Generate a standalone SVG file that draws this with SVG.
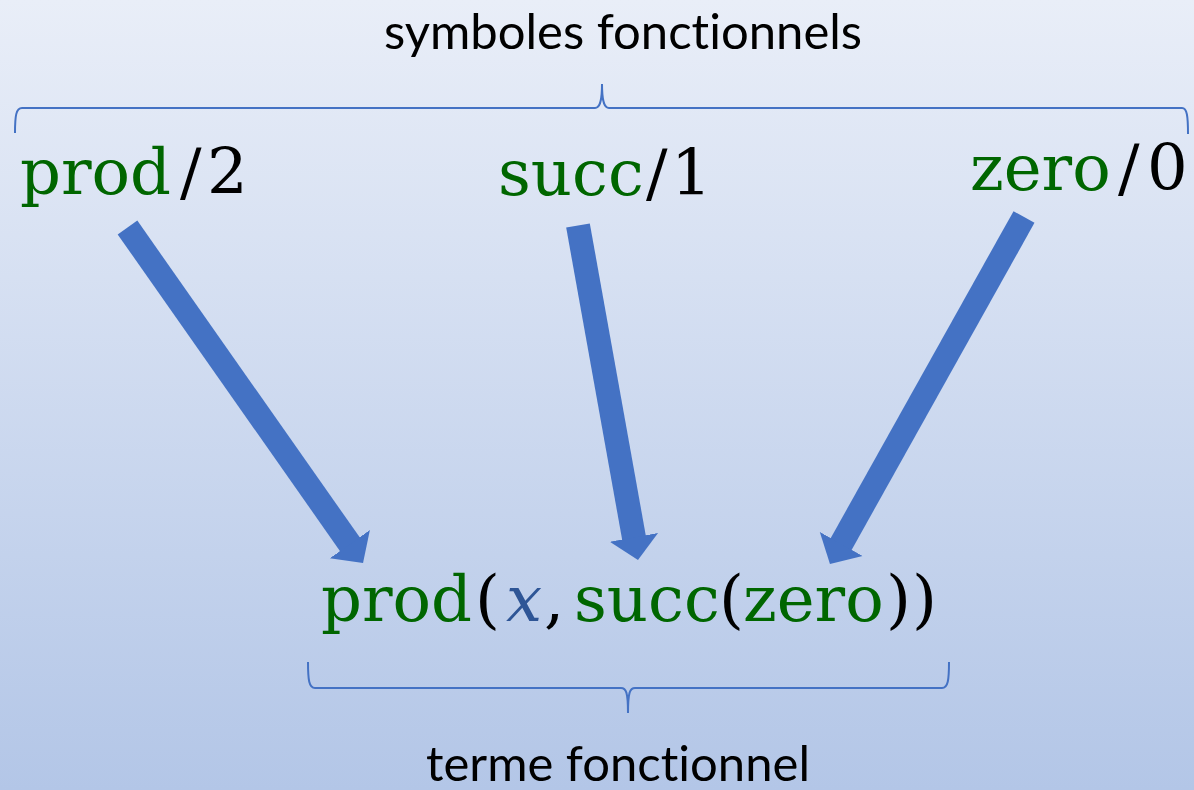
<svg xmlns="http://www.w3.org/2000/svg" width="1194" height="790" viewBox="0 0 1194 790">
  <defs>
    <linearGradient id="bg" x1="0" y1="0" x2="0" y2="1">
      <stop offset="0" stop-color="#E9EEF8"/>
      <stop offset="1" stop-color="#B3C6E7"/>
    </linearGradient>
    <marker id="head" markerUnits="userSpaceOnUse" markerWidth="24" markerHeight="50" viewBox="0 0 24 50" refX="1" refY="25" orient="auto">
      <path d="M0,0.5 L23,25 L0,49.5 Z" fill="#4472C4"/>
    </marker>
    <style>
      .brace { fill: none; stroke: #4472C4; stroke-width: 2; }
      .caption { font-family: Lato, "Liberation Sans", sans-serif; font-size: 49px; fill: #000000; font-variant-ligatures: none; font-feature-settings: "liga" 0, "dlig" 0; }
      .math { font-family: "DejaVu Serif", "Liberation Serif", serif; font-size: 64px; fill: #000000; }
      .fn { fill: #006600; }
      .var { fill: #2E5596; font-style: italic; }
      .arrow { stroke: #4472C4; stroke-width: 24; fill: none; stroke-linecap: butt; marker-end: url(#head); }
    </style>
  </defs>
  <rect x="0" y="0" width="1194" height="790" fill="url(#bg)"/>

  <g id="symboles-fonctionnels">
    <path class="brace" d="M15,133 C15,116 16,108 22,108 L595,108 C599,108 602,104 602,84 C602,104 605,108 609,108 L1182,108 C1187,108 1188,116 1188,134"/>
    <text class="caption" x="623" y="48.5" text-anchor="middle">symboles fonctionnels</text>
  </g>

  <g id="prod2">
    <text class="math" y="194"><tspan class="fn" x="20">prod</tspan><tspan x="180">/</tspan><tspan x="207">2</tspan></text>
  </g>

  <g id="succ1">
    <text class="math" y="195"><tspan class="fn" x="498">succ</tspan><tspan x="646">/</tspan><tspan x="671">1</tspan></text>
  </g>

  <g id="zero0">
    <text class="math" y="190"><tspan class="fn" x="970">zero</tspan><tspan x="1118">/</tspan><tspan x="1147">0</tspan></text>
  </g>

  <g id="terme">
    <text class="math" y="621"><tspan class="fn" x="321">prod</tspan><tspan x="475">(</tspan><tspan class="var" x="506">x</tspan><tspan x="544">,</tspan><tspan class="fn" x="574">succ</tspan><tspan x="719">(</tspan><tspan class="fn" x="743">zero</tspan><tspan x="886">)</tspan><tspan x="912">)</tspan></text>
  </g>

  <g id="terme-fonctionnel">
    <path class="brace" d="M308,662 C308,680 309,688 315,688 L621,688 C626,688 628,692 628,713 C628,692 630,688 635,688 L942,688 C948,688 949,680 949,662"/>
    <text class="caption" x="618" y="781" text-anchor="middle">terme fonctionnel</text>
  </g>

  <g id="connectors">
    <line class="arrow" x1="127.5" y1="227.5" x2="350.4" y2="545.0"/>
    <line class="arrow" x1="578" y1="225.5" x2="634.1" y2="538.3"/>
    <line class="arrow" x1="1024" y1="217" x2="840.7" y2="544.8"/>
  </g>
</svg>
